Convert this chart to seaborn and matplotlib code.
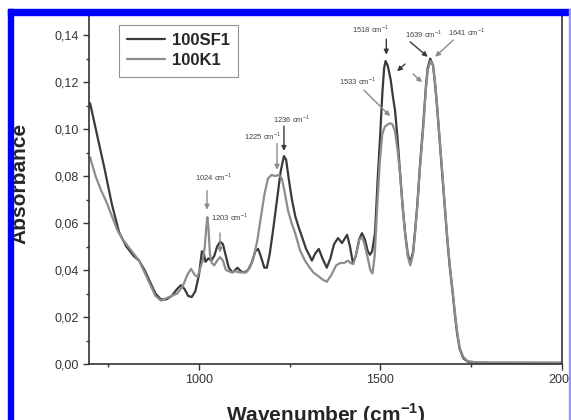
#!/usr/bin/env python3

# FTIR absorbance spectra of 100SF1 and 100K1

import matplotlib
matplotlib.use("Agg")
import matplotlib.pyplot as plt
from matplotlib.patches import Rectangle
from matplotlib.ticker import MultipleLocator, FuncFormatter
import seaborn as sns
import pandas as pd

sf1_x = [700, 720, 740, 760, 780, 800, 820, 835, 850, 865, 880, 895, 910, 925, 940, 950,
         960, 970, 980, 990, 1000, 1008, 1013, 1018, 1026, 1034, 1042, 1050, 1058, 1066,
         1074, 1082, 1092, 1100, 1106, 1115, 1125, 1135, 1145, 1155, 1163, 1170, 1180, 1187,
         1195, 1205, 1215, 1225, 1234, 1240, 1248, 1256, 1265, 1275, 1284, 1295, 1305, 1311,
         1320, 1330, 1340, 1352, 1362, 1372, 1383, 1394, 1408, 1416, 1424, 1432, 1441, 1449,
         1457, 1465, 1471, 1477, 1485, 1492, 1499, 1505, 1510, 1514, 1520, 1528, 1535, 1540,
         1547, 1554, 1561, 1568, 1575, 1582, 1590, 1596, 1601, 1609, 1618, 1625, 1630, 1637,
         1645, 1651, 1656, 1663, 1670, 1677, 1684, 1691, 1698, 1705, 1711, 1718, 1728, 1740,
         1760, 1800, 2000]
sf1_y = [0.111, 0.097, 0.083, 0.068, 0.056, 0.050, 0.046, 0.044, 0.040, 0.035, 0.030, 0.0275,
         0.0275, 0.029, 0.032, 0.0335, 0.032, 0.029, 0.0285, 0.031, 0.038, 0.048, 0.047, 0.0435,
         0.045, 0.044, 0.046, 0.050, 0.052, 0.051, 0.046, 0.041, 0.039, 0.040, 0.041, 0.0395,
         0.039, 0.040, 0.043, 0.048, 0.049, 0.046, 0.041, 0.041, 0.047, 0.058, 0.070, 0.082,
         0.0885, 0.087, 0.078, 0.070, 0.063, 0.058, 0.054, 0.049, 0.046, 0.044, 0.047, 0.049,
         0.045, 0.041, 0.045, 0.051, 0.0536, 0.0515, 0.055, 0.050, 0.043, 0.046, 0.053, 0.0557,
         0.053, 0.048, 0.0465, 0.048, 0.056, 0.078, 0.097, 0.115, 0.126, 0.129, 0.127, 0.121,
         0.113, 0.108, 0.096, 0.081, 0.067, 0.0557, 0.047, 0.043, 0.048, 0.058, 0.067, 0.085,
         0.1025, 0.118, 0.126, 0.130, 0.127, 0.118, 0.109, 0.095, 0.081, 0.067, 0.053, 0.041,
         0.0315, 0.021, 0.013, 0.0065, 0.0025, 0.001, 0.0006, 0.0005, 0.0005]

k1_x = [700, 715, 730, 745, 760, 775, 790, 805, 820, 835, 850, 865, 880, 895, 910, 925, 940,
        955, 968, 978, 988, 996, 1004, 1010, 1016, 1020, 1023, 1026, 1030, 1035, 1042, 1050,
        1058, 1066, 1074, 1082, 1090, 1100, 1110, 1120, 1130, 1140, 1150, 1160, 1170, 1180,
        1190, 1200, 1210, 1220, 1228, 1235, 1245, 1255, 1265, 1278, 1292, 1305, 1315, 1328,
        1340, 1352, 1365, 1378, 1389, 1400, 1410, 1418, 1425, 1435, 1442, 1449, 1456, 1465,
        1472, 1478, 1484, 1491, 1498, 1505, 1512, 1520, 1527, 1533, 1540, 1547, 1554, 1561,
        1568, 1575, 1582, 1590, 1596, 1601, 1609, 1618, 1625, 1630, 1638, 1645, 1651, 1656,
        1663, 1670, 1677, 1684, 1691, 1698, 1705, 1711, 1718, 1728, 1740, 1760, 1800, 2000]
k1_y = [0.088, 0.080, 0.074, 0.069, 0.063, 0.057, 0.053, 0.050, 0.047, 0.044, 0.039, 0.034,
        0.029, 0.027, 0.028, 0.029, 0.030, 0.033, 0.038, 0.0405, 0.038, 0.037, 0.041, 0.044,
        0.050, 0.058, 0.0625, 0.058, 0.047, 0.043, 0.042, 0.044, 0.0455, 0.044, 0.040, 0.0395,
        0.039, 0.0395, 0.039, 0.039, 0.039, 0.041, 0.045, 0.052, 0.062, 0.072, 0.079, 0.0805,
        0.080, 0.0805, 0.079, 0.074, 0.0655, 0.060, 0.0557, 0.0485, 0.044, 0.041, 0.039, 0.0375,
        0.036, 0.035, 0.038, 0.042, 0.043, 0.043, 0.044, 0.043, 0.0425, 0.048, 0.053, 0.054,
        0.051, 0.045, 0.040, 0.0385, 0.046, 0.067, 0.086, 0.098, 0.101, 0.102, 0.1025, 0.102,
        0.099, 0.091, 0.081, 0.067, 0.055, 0.046, 0.042, 0.047, 0.057, 0.066, 0.084, 0.101,
        0.117, 0.125, 0.129, 0.127, 0.119, 0.110, 0.096, 0.082, 0.068, 0.054, 0.042, 0.032,
        0.022, 0.014, 0.007, 0.003, 0.0012, 0.0008, 0.0006, 0.0005]

# label, text pos, arrow tail, arrow head, colour
peak_labels = ["1024", "1203", "1225", "1236", "1518", "1639", "1641", "1533"]
DARK = "#3a3a3a"
GRAY = "#8c8c8c"
notes = [
    ((1041, 0.0796), (1022, 0.0750), (1022, 0.0645), GRAY),
    ((1085, 0.0625), (1058, 0.0570), (1058, 0.0462), GRAY),
    ((1174, 0.0970), (1215, 0.0950), (1215, 0.0815), GRAY),
    ((1256, 0.1043), (1234, 0.1025), (1234, 0.0895), DARK),
    ((1474, 0.1426), (1516, 0.1395), (1516, 0.1305), DARK),
    ((1620, 0.1404), (1576, 0.1379), (1636, 0.1300), DARK),
    ((1736, 0.1413), (1706, 0.1387), (1645, 0.1300), GRAY),
    ((1436, 0.1204), (1449, 0.1174), (1532, 0.1047), GRAY),
]


def main():
    sns.set_style("ticks")
    plt.rcParams["font.family"] = ["Liberation Sans", "DejaVu Sans"]

    df = pd.concat([
        pd.DataFrame({"Wavenumber": sf1_x, "Absorbance": sf1_y, "Sample": "100SF1"}),
        pd.DataFrame({"Wavenumber": k1_x, "Absorbance": k1_y, "Sample": "100K1"}),
    ])

    fig = plt.figure(figsize=(5.71, 4.2), dpi=100)
    ax = fig.add_axes([89 / 571, 56 / 420, 473 / 571, 350 / 420])
    sns.lineplot(data=df, x="Wavenumber", y="Absorbance", hue="Sample",
                 palette={"100SF1": DARK, "100K1": GRAY}, sort=False,
                 linewidth=1.6, ax=ax)

    ax.set_xlim(697, 2000)
    ax.set_ylim(0, 0.149)
    ax.xaxis.set_major_locator(MultipleLocator(500))
    ax.xaxis.set_minor_locator(MultipleLocator(250))
    ax.yaxis.set_major_locator(MultipleLocator(0.02))
    ax.yaxis.set_minor_locator(MultipleLocator(0.01))
    ax.yaxis.set_major_formatter(FuncFormatter(lambda v, p: f"{v:.2f}".replace(".", ",")))
    ax.tick_params(which="major", length=4, width=1, labelsize=9, colors="#333333")
    ax.tick_params(which="minor", length=2.5, width=1, colors="#333333")
    for s in ax.spines.values():
        s.set_color("#333333")
        s.set_linewidth(1.2)

    ax.set_xlabel("Wavenumber (cm$^{\\mathregular{-1}}$)", fontsize=15, fontweight="bold",
                  va="baseline")
    ax.set_ylabel("Absorbance", fontsize=15, fontweight="bold", va="baseline")
    ax.xaxis.set_label_coords(0.5, -0.166)
    ax.yaxis.set_label_coords(-0.1353, 0.516)

    leg = ax.legend(loc="upper left", bbox_to_anchor=(0.063, 0.969), frameon=True,
                    fancybox=False, borderaxespad=0, handlelength=2.3, handletextpad=0.4,
                    borderpad=0.5, labelspacing=0.3,
                    prop={"weight": "bold", "size": 12})
    leg.get_frame().set_edgecolor("#777777")
    leg.get_frame().set_linewidth(0.8)
    for line in leg.get_lines():
        line.set_linewidth(1.6)

    for lab, (txt, tail, head, col) in zip(peak_labels, notes):
        ax.text(txt[0], txt[1], lab + " cm$^{\\mathregular{-1}}$", fontsize=5.5,
                color="#444444", ha="center", va="center")
        ax.annotate("", xy=head, xytext=tail,
                    arrowprops=dict(arrowstyle="-|>", color=col, lw=1.0, mutation_scale=7))
    # two unlabelled arrows between the 1518 and 1639 bands
    ax.annotate("", xy=(1540, 0.1238), xytext=(1573, 0.1285),
                arrowprops=dict(arrowstyle="-|>", color=DARK, lw=1.0, mutation_scale=7))
    ax.annotate("", xy=(1620, 0.1191), xytext=(1584, 0.1243),
                arrowprops=dict(arrowstyle="-|>", color=GRAY, lw=1.0, mutation_scale=7))

    # blue frame of the source picture
    fig.add_artist(Rectangle((8 / 571, 405 / 420), 563 / 571, 6 / 420,
                             transform=fig.transFigure, color="#0000ff", zorder=10))
    fig.add_artist(Rectangle((8 / 571, 0), 5 / 571, 411 / 420,
                             transform=fig.transFigure, color="#0000ff", zorder=10))
    fig.add_artist(Rectangle((569 / 571, 0), 2 / 571, 411 / 420,
                             transform=fig.transFigure, color="#9999ff", zorder=10))

    fig.savefig("out.png", dpi=100)


if __name__ == "__main__":
    main()
